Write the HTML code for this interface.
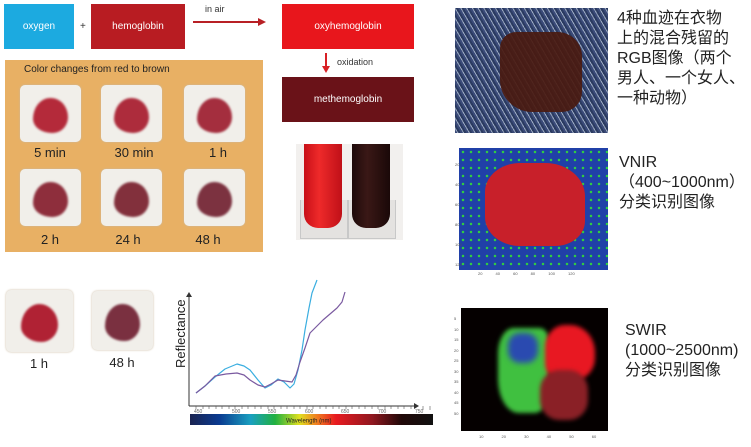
<!DOCTYPE html>
<html><head><meta charset="utf-8"><style>
body{margin:0;width:751px;height:447px;background:#fff;position:relative;overflow:hidden;font-family:"Liberation Sans","Noto Sans CJK SC",sans-serif}
.a{position:absolute}
.box{position:absolute;color:#fff;font-size:10px;display:flex;align-items:center;justify-content:center}
.ph{position:absolute;background:#f1efea;border-radius:5px;box-shadow:0 0 2px #c9b9a0}
.bl{position:absolute;left:22%;top:22%;width:56%;height:62%;border-radius:50% 50% 45% 55%/60% 55% 45% 40%;filter:blur(1px)}
.lb{position:absolute;font-size:13px;color:#222;text-align:center;width:60px}
.cn{position:absolute;font-size:16px;line-height:20px;color:#222}
</style></head><body>
<div class="box" style="left:4px;top:4px;width:70px;height:45px;background:#1caae0">oxygen</div>
<div class="a" style="left:80px;top:21px;font-size:10px;color:#333">+</div>
<div class="box" style="left:91px;top:4px;width:94px;height:45px;background:#b81c22">hemoglobin</div>
<div class="a" style="left:205px;top:4px;font-size:9px;color:#333">in air</div>
<div class="a" style="left:193px;top:21px;width:66px;height:2px;background:#b82025"></div>
<div class="a" style="left:258px;top:18px;border-left:8px solid #b82025;border-top:4px solid transparent;border-bottom:4px solid transparent"></div>
<div class="box" style="left:282px;top:4px;width:132px;height:45px;background:#e8161c">oxyhemoglobin</div>
<div class="a" style="left:325px;top:53px;width:2px;height:14px;background:#d82025"></div>
<div class="a" style="left:322px;top:66px;border-top:7px solid #d82025;border-left:4px solid transparent;border-right:4px solid transparent"></div>
<div class="a" style="left:337px;top:57px;font-size:9px;color:#333">oxidation</div>
<div class="box" style="left:282px;top:77px;width:132px;height:45px;background:#6a1218">methemoglobin</div>

<div class="a" style="left:5px;top:60px;width:258px;height:192px;background:#e8b064"></div>
<div class="a" style="left:24px;top:64px;font-size:10px;color:#222">Color changes from red to brown</div>
<div class="ph" style="left:20px;top:85px;width:61px;height:57px"><div class="bl" style="background:#b42a3a"></div></div>
<div class="ph" style="left:101px;top:85px;width:61px;height:57px"><div class="bl" style="background:#ad2c3c"></div></div>
<div class="ph" style="left:184px;top:85px;width:61px;height:57px"><div class="bl" style="background:#a42e3e"></div></div>
<div class="ph" style="left:20px;top:169px;width:61px;height:57px"><div class="bl" style="background:#8e2e3c"></div></div>
<div class="ph" style="left:101px;top:169px;width:61px;height:57px"><div class="bl" style="background:#82303c"></div></div>
<div class="ph" style="left:184px;top:169px;width:61px;height:57px"><div class="bl" style="background:#7c3240"></div></div>
<div class="lb" style="left:20px;top:145px">5 min</div>
<div class="lb" style="left:104px;top:145px">30 min</div>
<div class="lb" style="left:188px;top:145px">1 h</div>
<div class="lb" style="left:20px;top:232px">2 h</div>
<div class="lb" style="left:98px;top:232px">24 h</div>
<div class="lb" style="left:178px;top:232px">48 h</div>

<div class="a" style="left:296px;top:144px;width:107px;height:96px;background:#f2f0ee"></div>
<div class="a" style="left:300px;top:200px;width:46px;height:38px;background:#e4e2e0;border:1px solid #c8c8c8;border-top:none"></div>
<div class="a" style="left:348px;top:200px;width:46px;height:38px;background:#e4e2e0;border:1px solid #c8c8c8;border-top:none"></div>
<div class="a" style="left:304px;top:144px;width:38px;height:84px;background:linear-gradient(90deg,#c81018,#ee2a2a 40%,#c01018);border-radius:0 0 14px 14px"></div>
<div class="a" style="left:352px;top:144px;width:38px;height:84px;background:linear-gradient(90deg,#1e0a0a,#3a1816 40%,#1a0808);border-radius:0 0 14px 14px"></div>

<div class="ph" style="left:6px;top:290px;width:67px;height:62px"><div class="bl" style="background:#b02234"></div></div>
<div class="ph" style="left:92px;top:291px;width:61px;height:59px"><div class="bl" style="background:#7a3040"></div></div>
<div class="lb" style="left:9px;top:356px">1 h</div>
<div class="lb" style="left:92px;top:355px">48 h</div>

<svg class="a" style="left:0;top:0" width="751" height="447">
<defs><linearGradient id="sp" x1="0" x2="1">
<stop offset="0" stop-color="#1a2350"/><stop offset=".12" stop-color="#0a3a90"/><stop offset=".25" stop-color="#1aa0c0"/><stop offset=".35" stop-color="#20b040"/><stop offset=".45" stop-color="#e0e020"/><stop offset=".52" stop-color="#f08020"/><stop offset=".6" stop-color="#e81a20"/><stop offset=".75" stop-color="#901820"/><stop offset=".87" stop-color="#200808"/><stop offset="1" stop-color="#111"/></linearGradient></defs>
<rect x="190" y="414" width="243" height="11" fill="url(#sp)"/>
<text x="286" y="422.5" font-size="6" fill="#222" font-family="Liberation Sans">Wavelength (nm)</text>
<g font-size="5" fill="#666" font-family="Liberation Sans"><text x="194" y="413">450</text><text x="232" y="413">500</text><text x="268" y="413">550</text><text x="305" y="413">600</text><text x="341" y="413">650</text><text x="378" y="413">700</text><text x="415" y="413">750</text></g>
<line x1="189" y1="406" x2="416" y2="406" stroke="#333"/><path d="M414 403 L419 406 L414 409Z" fill="#333"/>
<line x1="189" y1="406" x2="189" y2="295" stroke="#333"/><path d="M186 297 L189 292 L192 297Z" fill="#333"/>
<g stroke="#555" stroke-width=".6"><path d="M196 406v3M203 406v3M209 406v3M216 406v3M222 406v3M229 406v3M235 406v3M242 406v3M248 406v3M255 406v3M261 406v3M268 406v3M274 406v3M281 406v3M287 406v3M294 406v3M300 406v3M307 406v3M313 406v3M320 406v3M326 406v3M333 406v3M339 406v3M346 406v3M352 406v3M359 406v3M365 406v3M372 406v3M378 406v3M385 406v3M391 406v3M398 406v3M404 406v3M411 406v3M423 406v4M430 406v4"/></g>
<text transform="translate(185,368) rotate(-90)" font-size="13" fill="#222" font-family="Liberation Sans">Reflectance</text>
<polyline points="196,393 205,386 215,377 225,369 237,364 244,366 250,370 258,380 265,388 271,385 278,379 284,382 290,388 294,384 298,370 302,350 305,330 309,308 312,293 317,280" fill="none" stroke="#3aaee0" stroke-width="1.2" stroke-linejoin="round"/>
<polyline points="196,393 205,386 215,376 226,374 237,373 244,375 250,380 258,385 265,387 271,384 278,380 285,381 292,382 296,375 300,362 305,348 310,333 317,326 323,320 330,314 337,308 342,302 345,292" fill="none" stroke="#7a5aa0" stroke-width="1.2" stroke-linejoin="round"/>
</svg>

<div class="a" style="left:455px;top:8px;width:153px;height:125px;background:repeating-linear-gradient(60deg,#3a4a78 0 2px,#9aa8c0 2px 3px,#2a3a60 3px 5px)"></div>
<div class="a" style="left:500px;top:32px;width:82px;height:80px;background:#4a1a10;border-radius:20% 30% 25% 40%;opacity:.92"></div>
<div class="cn" style="left:617px;top:9px">4种血迹在衣物<br>上的混合残留的<br>RGB图像（两个<br>男人、一个女人、<br>一种动物）</div>

<div class="a" style="left:459px;top:148px;width:149px;height:122px;background:radial-gradient(circle,#30d040 1px,transparent 1.5px) 0 0/8px 8px,#2040a8"></div>
<div class="a" style="left:485px;top:163px;width:100px;height:83px;background:#c8202a;border-radius:35% 40% 30% 35%"></div>
<div class="a" style="left:455px;top:155px;font-size:4px;color:#555;line-height:20px">20<br>40<br>60<br>80<br>100<br>120</div>
<div class="a" style="left:478px;top:271px;font-size:4px;color:#555;word-spacing:12px">20 40 60 80 100 120</div>
<div class="cn" style="left:619px;top:153px">VNIR<br>（400~1000nm）<br>分类识别图像</div>

<div class="a" style="left:461px;top:308px;width:147px;height:123px;background:#050000"></div>
<div class="a" style="left:498px;top:328px;width:52px;height:85px;background:#40c040;border-radius:30% 20% 30% 40%;filter:blur(2px)"></div>
<div class="a" style="left:508px;top:333px;width:30px;height:30px;background:#2a4ab0;border-radius:40%;filter:blur(3px)"></div>
<div class="a" style="left:545px;top:325px;width:50px;height:55px;background:#e81822;border-radius:40% 50% 40% 30%;filter:blur(2px)"></div>
<div class="a" style="left:540px;top:370px;width:48px;height:50px;background:#8a2026;border-radius:40%;filter:blur(2px)"></div>
<div class="a" style="left:454px;top:314px;font-size:4px;color:#555;line-height:10.5px">5<br>10<br>15<br>20<br>25<br>30<br>35<br>40<br>45<br>50</div>
<div class="a" style="left:479px;top:434px;font-size:4px;color:#555;word-spacing:17px">10 20 30 40 50 60</div>
<div class="cn" style="left:625px;top:321px">SWIR<br>(1000~2500nm)<br>分类识别图像</div>
</body></html>
